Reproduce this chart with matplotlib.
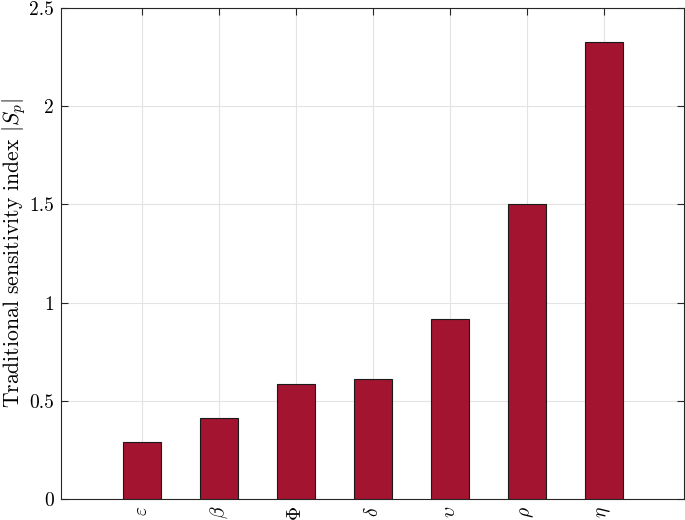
import matplotlib
matplotlib.use('Agg')
import matplotlib.pyplot as plt
import numpy as np

# parameters and their sensitivity index
params = [r'$\varepsilon$', r'$\beta$', r'$\Phi$', r'$\delta$', r'$\upsilon$', r'$\rho$', r'$\eta$']
sens = [0.289, 0.413, 0.586, 0.611, 0.916, 1.502, 2.327]
yticks = [0, 0.5, 1, 1.5, 2, 2.5]
ytick_labels = ['0', '0.5', '1', '1.5', '2', '2.5']

plt.rcParams['font.family'] = 'serif'
plt.rcParams['font.serif'] = ['cmr10']
plt.rcParams['mathtext.fontset'] = 'cm'
plt.rcParams['axes.unicode_minus'] = False

fig = plt.figure(figsize=(6.85, 5.2), dpi=100)
ax = fig.add_axes([0.089, 0.0404, 0.9095, 0.9442])

x = np.arange(1, len(sens) + 1)
ax.bar(x, sens, width=0.5, color='#A2142F', edgecolor='#1a1a1a', linewidth=0.8, zorder=3)

ax.set_xlim(-0.05, 8.04)
ax.set_ylim(0, 2.5)
ax.set_xticks(x)
ax.set_xticklabels(params, rotation=90, fontsize=14)
ax.set_yticks(yticks)
ax.set_yticklabels(ytick_labels, fontsize=14)
ax.set_ylabel(r'Traditional sensitivity index $|S_p|$', fontsize=15.6, labelpad=1)

ax.grid(True, color='#e3e3e3', linewidth=0.8, zorder=0)
ax.set_axisbelow(True)
ax.tick_params(direction='in', length=5, width=0.8, color='#262626', top=True, right=True, pad=5)
for s in ax.spines.values():
    s.set_color('#262626')
    s.set_linewidth(0.8)

fig.savefig('out.png', dpi=100)
